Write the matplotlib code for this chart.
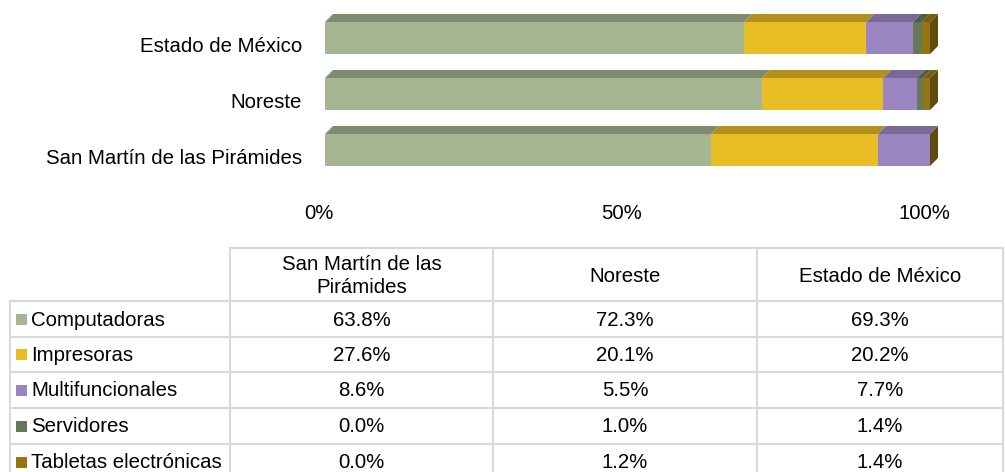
import matplotlib.pyplot as plt
import numpy as np
from matplotlib.patches import Polygon, Rectangle
from matplotlib.transforms import ScaledTranslation

plt.rcParams['font.family'] = ['Liberation Sans', 'DejaVu Sans']

# datos (porcentajes)
regiones = ['San Martín de las Pirámides', 'Noreste', 'Estado de México']
encabezados = ['San Martín de las\nPirámides', 'Noreste', 'Estado de México']
equipos = ['Computadoras', 'Impresoras', 'Multifuncionales', 'Servidores', 'Tabletas electrónicas']
computadoras = [63.8, 72.3, 69.3]
impresoras = [27.6, 20.1, 20.2]
multifuncionales = [8.6, 5.5, 7.7]
servidores = [0.0, 1.0, 1.4]
tabletas = [0.0, 1.2, 1.4]
ticks_x = [0, 50, 100]

series = [computadoras, impresoras, multifuncionales, servidores, tabletas]
colores = ['#a6b592', '#e8bd26', '#9b85c0', '#64795a', '#977412']
colores_top = ['#7f8a70', '#b38f1e', '#7a6898', '#4e5f47', '#76600f']
color_lado = '#5e4b0e'
fs = 14.7

W, H = 1005, 472
fig = plt.figure(figsize=(W / 100, H / 100), dpi=100)

# --- barras 3D apiladas ---
x0, x1 = 325, 930
ytop, ybot = 0, 180
ax = fig.add_axes([x0 / W, (H - ybot) / H, (x1 - x0) / W, (ybot - ytop) / H])
paso = 56.0
ylo = (150 - ybot) / paso
yhi = (150 - ytop) / paso
ax.set_xlim(0, 1)
ax.set_ylim(ylo, yhi)
alto = 32 / paso
dx = 8 / (x1 - x0)
dy = 8 / paso

pos = np.arange(len(regiones))
totales = np.sum(series, axis=0)
izq = np.zeros(len(regiones))
for vals, c, ct in zip(series, colores, colores_top):
    frac = np.array(vals) / totales
    ax.barh(pos, frac, left=izq, height=alto, color=c, edgecolor='none', zorder=2)
    for p, l, w in zip(pos, izq, frac):
        if w <= 0:
            continue
        t = p + alto / 2
        ax.add_patch(Polygon([(l, t), (l + w, t), (l + w + dx, t + dy), (l + dx, t + dy)],
                             closed=True, color=ct, lw=0, zorder=2, clip_on=False))
    izq = izq + frac
for p, r in zip(pos, izq):
    t, b = p + alto / 2, p - alto / 2
    ax.add_patch(Polygon([(r, b), (r, t), (r + dx, t + dy), (r + dx, b + dy)],
                         closed=True, color=color_lado, lw=0, zorder=3, clip_on=False))

ax.set_yticks(pos)
ax.set_yticklabels(regiones, fontsize=fs)
ax.set_xticks([v / 100 for v in ticks_x])
ax.set_xticklabels(['%d%%' % v for v in ticks_x], fontsize=fs)
ax.tick_params(length=0)
ax.tick_params(axis='y', pad=16.5)
ax.tick_params(axis='x', pad=17)
for lab in ax.get_yticklabels():
    lab.set_transform(lab.get_transform() + ScaledTranslation(0, -0.065, fig.dpi_scale_trans))
for lab in ax.get_xticklabels():
    lab.set_transform(lab.get_transform() + ScaledTranslation(-0.06, 0, fig.dpi_scale_trans))
for s in ax.spines.values():
    s.set_visible(False)

# --- tabla de datos ---
tx = fig.add_axes([0, 0, 1, 1])
tx.set_xlim(0, W)
tx.set_ylim(H, 0)
tx.axis('off')
cols = [10, 230, 493, 757, 1003]
filas = [248, 301, 337, 372, 408, 444, 480]
gris = '#d9d9d9'
lw = 1.5
# lineas horizontales
tx.plot([cols[1], cols[-1]], [filas[0], filas[0]], color=gris, lw=lw)
for yy in filas[1:]:
    tx.plot([cols[0], cols[-1]], [yy, yy], color=gris, lw=lw)
# lineas verticales
tx.plot([cols[0], cols[0]], [filas[1], filas[-1]], color=gris, lw=lw)
for xx in cols[1:]:
    tx.plot([xx, xx], [filas[0], filas[-1]], color=gris, lw=lw)

for j, enc in enumerate(encabezados):
    cx = (cols[j + 1] + cols[j + 2]) / 2
    tx.text(cx, (filas[0] + filas[1]) / 2 + 1.5, enc, ha='center', va='center',
            fontsize=fs, linespacing=1.3)

for i, (nom, vals, c) in enumerate(zip(equipos, series, colores)):
    cy = (filas[i + 1] + filas[i + 2]) / 2
    tx.add_patch(Rectangle((16, cy - 5.5), 11, 11, color=c, lw=0))
    tx.text(31, cy + 1, nom, ha='left', va='center', fontsize=fs)
    for j, v in enumerate(vals):
        cx = (cols[j + 1] + cols[j + 2]) / 2
        tx.text(cx, cy + 1, '%.1f%%' % v, ha='center', va='center', fontsize=fs)

fig.savefig('out.png', dpi=100)
